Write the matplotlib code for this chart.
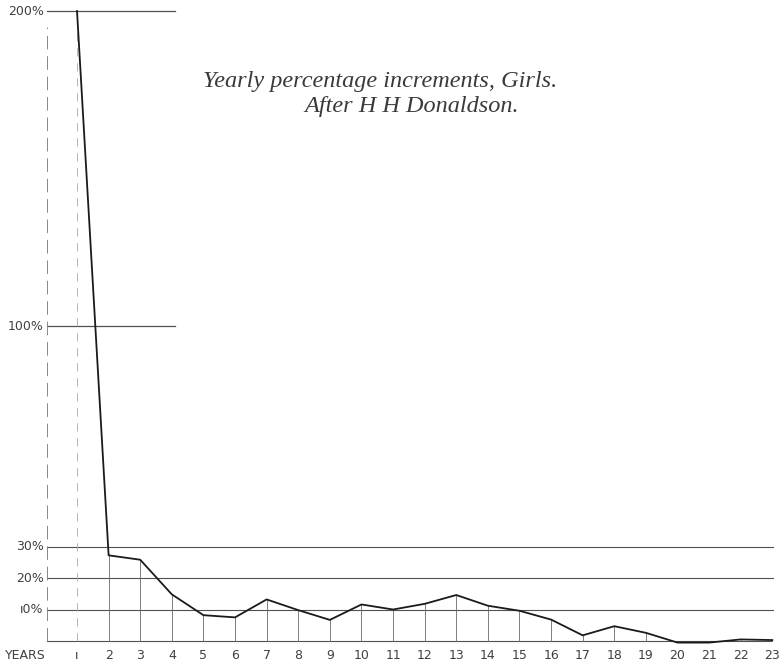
import matplotlib
matplotlib.use("Agg")
import matplotlib.pyplot as plt

# yearly percentage increments, girls
years = list(range(1, 24))
increments = [200, 27.2, 25.8, 14.8, 8.2, 7.5, 13.2, 9.8, 6.7, 11.6, 10.0,
              11.8, 14.6, 11.2, 9.6, 6.8, 1.8, 4.7, 2.6, -0.5, -0.5, 0.5, 0.3]
year_labels = ["ı"] + [str(y) for y in years[1:]]
long_levels = [30, 20, 10]
short_levels = [200, 100]
level_labels = {200: "200%", 100: "100%", 30: "30%", 20: "20%", 10: "ı0%"}

fig = plt.figure(figsize=(7.84, 6.64), dpi=100)
ax = fig.add_axes([0, 0, 1, 1])
ax.set_xlim(-1.437, 23.37)
ax.set_ylim(-7.3, 203.5)
ax.axis("off")

grid_col = "#505050"
x_left = 0.05

# reference lines
for lv in short_levels:
    ax.plot([x_left, 4.1], [lv, lv], color=grid_col, lw=0.9)
for lv in long_levels:
    ax.plot([x_left, 23.03], [lv, lv], color=grid_col, lw=0.8)
ax.plot([x_left, 22.95], [0, 0], color=grid_col, lw=0.8)

# broken left axis
ax.plot([x_left, x_left], [0, 195], color="#888888", lw=0.7, ls=(0, (14, 7)))

# drop lines from baseline to curve
ax.plot([1, 1], [0, 200], color="#aaaaaa", lw=0.6, ls=(0, (10, 8)))
for x, v in zip(years[1:], increments[1:]):
    if v > 0:
        ax.plot([x, x], [0, v], color="#6a6a6a", lw=0.6)

# the curve
ax.plot(years, increments, color="#1a1a1a", lw=1.3)

# y labels
for lv, txt in level_labels.items():
    ax.text(x_left - 0.1, lv, txt, ha="right", va="center",
            fontsize=9, color="#404040", family="DejaVu Sans")

# x labels
ax.text(-1.28, -4.6, "YEARS", ha="left", va="center", fontsize=9,
        color="#404040", family="DejaVu Sans")
for x, lab in zip(years, year_labels):
    ax.text(x, -4.6, lab, ha="center", va="center", fontsize=9,
            color="#404040", family="DejaVu Sans")

# handwritten title
ax.text(10.6, 177.5, "Yearly percentage increments, Girls.", ha="center",
        va="center", fontsize=17.5, style="italic", color="#3a3a3a",
        family="Liberation Serif")
ax.text(11.6, 169.8, "After H H Donaldson.", ha="center", va="center",
        fontsize=17.5, style="italic", color="#3a3a3a", family="Liberation Serif")

fig.savefig("out.png", dpi=100, facecolor="white")
